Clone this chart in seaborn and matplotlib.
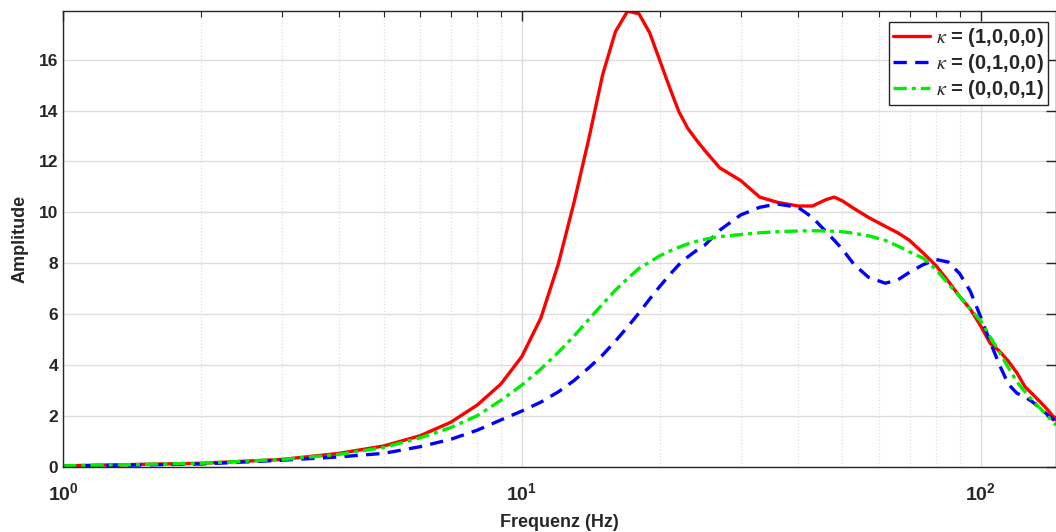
"""
plot.py

Amplitude vs frequency for three kappa settings (MATLAB-style figure).
"""

import numpy as np
import pandas as pd
import matplotlib
matplotlib.use('Agg')
import matplotlib.pyplot as plt
import matplotlib.ticker as mticker
import seaborn as sns

#=======================================================================
#  Data
#=======================================================================

freq = [1, 2, 3, 4, 5, 6, 7, 8, 9, 10, 11, 12, 13, 14, 15, 16, 17, 18, 19,
        20, 21, 22, 23, 24, 25, 27, 30, 33, 36, 40, 43, 46, 48, 50, 53, 57,
        62, 66, 70, 75, 80, 85, 90, 95, 100, 105, 110, 115, 120, 125, 130,
        135, 140, 146]

amp_1000 = [0.05, 0.15, 0.30, 0.54, 0.83, 1.23, 1.76, 2.44, 3.26, 4.34,
            5.85, 7.95, 10.4, 12.9, 15.4, 17.1, 17.9, 17.8, 17.05, 15.95,
            14.9, 13.95, 13.3, 12.85, 12.45, 11.75, 11.25, 10.6, 10.4, 10.25,
            10.25, 10.5, 10.6, 10.45, 10.15, 9.8, 9.45, 9.2, 8.9, 8.4, 7.9,
            7.3, 6.7, 6.2, 5.55, 4.85, 4.55, 4.15, 3.7, 3.15, 2.85, 2.55,
            2.25, 1.85]

amp_0100 = [0.04, 0.12, 0.27, 0.40, 0.54, 0.80, 1.09, 1.45, 1.85, 2.20,
            2.55, 2.95, 3.40, 3.90, 4.40, 4.95, 5.50, 6.05, 6.60, 7.10,
            7.55, 7.95, 8.25, 8.50, 8.70, 9.30, 9.90, 10.2, 10.33, 10.2,
            9.8, 9.25, 8.9, 8.55, 7.95, 7.45, 7.22, 7.35, 7.65, 7.95, 8.15,
            8.05, 7.6, 6.9, 5.9, 4.9, 4.0, 3.25, 2.9, 2.75, 2.55, 2.3,
            2.05, 1.78]

amp_0001 = [0.05, 0.15, 0.30, 0.50, 0.77, 1.15, 1.55, 2.02, 2.62, 3.22,
            3.85, 4.50, 5.15, 5.80, 6.40, 6.95, 7.40, 7.80, 8.05, 8.30,
            8.48, 8.63, 8.76, 8.86, 8.94, 9.05, 9.13, 9.20, 9.24, 9.27,
            9.28, 9.27, 9.26, 9.24, 9.18, 9.08, 8.90, 8.68, 8.45, 8.20,
            7.75, 7.20, 6.70, 6.20, 5.75, 5.10, 4.50, 3.90, 3.35, 2.95,
            2.60, 2.30, 2.00, 1.65]

labels = [r'$\kappa$ = (1,0,0,0)', r'$\kappa$ = (0,1,0,0)',
          r'$\kappa$ = (0,0,0,1)']

#=======================================================================
#  Style
#=======================================================================

sns.set_style('white')
plt.rcParams['font.family'] = ['Liberation Sans', 'DejaVu Sans']
plt.rcParams['mathtext.fontset'] = 'custom'
plt.rcParams['mathtext.rm'] = 'Liberation Sans'
plt.rcParams['mathtext.bf'] = 'Liberation Sans:bold'
plt.rcParams['mathtext.it'] = 'STIXGeneral:italic'
plt.rcParams['axes.edgecolor'] = '#262626'
plt.rcParams['axes.linewidth'] = 1.0

#
#  Long-form table for seaborn
#

data = pd.DataFrame({
    'freq': freq * 3,
    'amp': amp_1000 + amp_0100 + amp_0001,
    'case': [labels[0]] * len(freq) + [labels[1]] * len(freq) +
            [labels[2]] * len(freq),
    })

styles = {
    labels[0]: dict(color='#ff0000', linestyle='-'),
    labels[1]: dict(color='#0000ff', linestyle=(0, (4, 2.5))),
    labels[2]: dict(color='#00ee00', linestyle=(0, (4, 1.5, 1.2, 1.5))),
    }

fig = plt.figure(figsize=(10.56, 5.32), dpi=100)
ax = fig.add_axes([0.0597, 0.122, 0.9403, 0.857])

for lab in labels:
    sub = data[data['case'] == lab]
    sns.lineplot(data=sub, x='freq', y='amp', ax=ax, label=lab,
                 linewidth=2.4, **styles[lab])

#
#  Axes: log x, tight limits, MATLAB box with inward ticks
#

ax.set_xscale('log')
ax.set_xlim(1, 146)
ax.set_ylim(0, max(amp_1000))
ax.set_yticks(np.arange(0, 17, 2))

ax.xaxis.set_major_formatter(mticker.FuncFormatter(
    lambda v, p: r'$\mathbf{10^{%d}}$' % round(np.log10(v))))
ax.xaxis.set_minor_formatter(mticker.NullFormatter())

ax.grid(True, which='major', color='#dedede', linewidth=1.0)
ax.grid(True, which='minor', axis='x', color='#dedede', linestyle=':',
        linewidth=0.9)
ax.set_axisbelow(True)

ax.tick_params(which='both', direction='in', top=True, right=True,
               colors='#262626', labelsize=12.5)
ax.tick_params(which='major', length=7, width=1.0)
ax.tick_params(which='minor', length=4, width=0.8)
ax.tick_params(axis='x', which='major', pad=11, labelsize=14)

for t in ax.get_yticklabels():
    t.set_fontweight('bold')

ax.set_xlabel('Frequenz (Hz)', fontsize=13, fontweight='bold', labelpad=7)
ax.set_ylabel('Amplitude', fontsize=13, fontweight='bold', labelpad=7)

leg = ax.legend(loc='upper right', bbox_to_anchor=(0.9915, 0.976),
                frameon=True, fancybox=False, framealpha=1,
                edgecolor='#262626', handlelength=1.8, handletextpad=0.3,
                borderpad=0.2, labelspacing=0.15, borderaxespad=0.0,
                prop={'weight': 'bold', 'size': 14.5})
leg.get_frame().set_linewidth(1.0)

fig.savefig('out.png', dpi=100)
